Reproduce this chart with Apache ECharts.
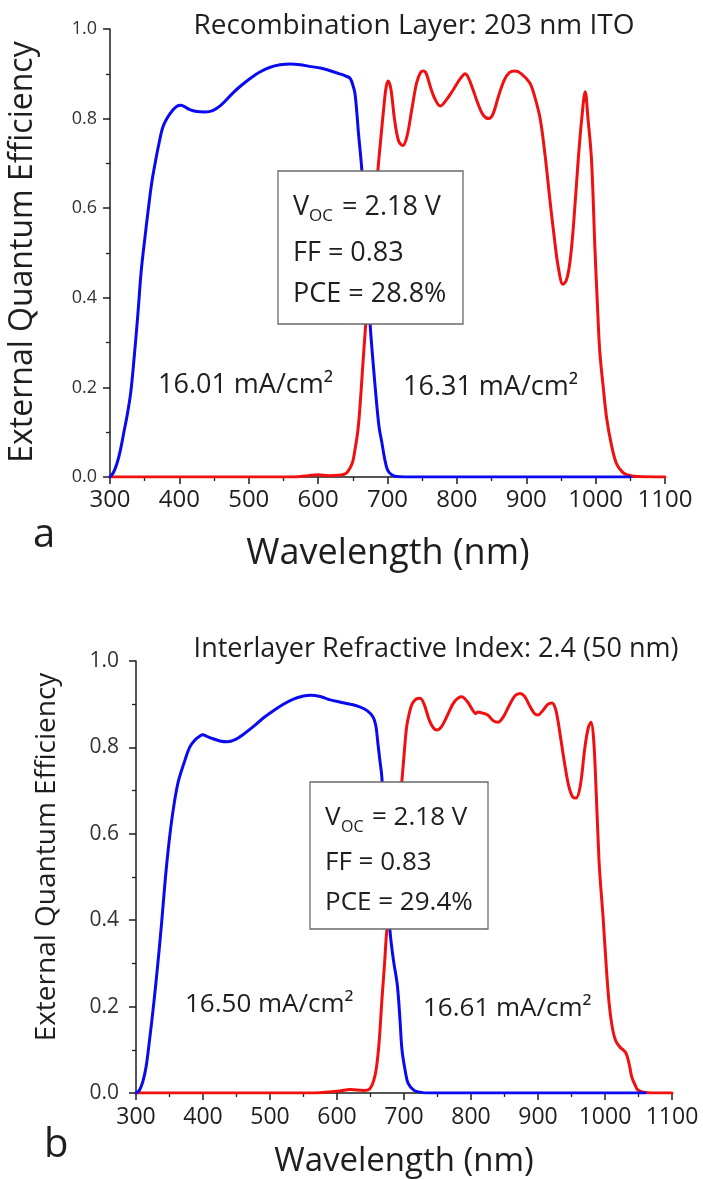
<!DOCTYPE html>
<html><head><meta charset="utf-8">
<script src="https://cdn.jsdelivr.net/npm/echarts@6/dist/echarts.min.js"></script>
<style>html,body{margin:0;padding:0;background:#fff}#c{width:703px;height:1180px}</style>
</head><body><div id="c"></div>
<script>
// ---------- Data ----------
// Panel a: Recombination Layer: 203 nm ITO
const wlBlueA = [300,305,310,315,320,325,330,335,340,345,350,355,360,365,370,376,382,390,397,402,408,415,425,437,448,460,477,490,505,516,530,545,560,575,590,603,615,631,640,646,650,653,656,658,663,669,675,679,684,688,692,696,700,706,713,725,1050];
const eqeBlueA = [0,0.01,0.03,0.06,0.1,0.14,0.19,0.27,0.36,0.46,0.53,0.595,0.655,0.7,0.74,0.78,0.80,0.818,0.828,0.83,0.826,0.82,0.816,0.815,0.818,0.83,0.857,0.875,0.893,0.904,0.914,0.92,0.922,0.92,0.916,0.913,0.908,0.9,0.895,0.89,0.875,0.857,0.81,0.77,0.685,0.51,0.34,0.26,0.17,0.11,0.076,0.04,0.016,0.005,0.001,0,0];
const wlRedA = [300,560,580,600,615,630,640,646,650,653,657,660,664,669,674,680,686,690,695,698,701,705,710,716,722,728,735,742,748,752,756,762,768,776,784,795,803,808,812,816,822,830,838,846,852,860,868,876,884,893,905,912,920,927,934,940,946,953,958,963,968,975,980,985,989,994,999,1003,1006,1011,1016,1023,1030,1038,1045,1060,1100];
const eqeRedA = [0,0,0.002,0.005,0.003,0.004,0.008,0.02,0.035,0.06,0.1,0.15,0.24,0.35,0.45,0.57,0.683,0.75,0.83,0.87,0.884,0.865,0.8,0.75,0.74,0.76,0.82,0.88,0.904,0.906,0.9,0.87,0.845,0.828,0.84,0.865,0.885,0.895,0.9,0.893,0.87,0.835,0.808,0.8,0.81,0.85,0.885,0.903,0.906,0.9,0.88,0.85,0.8,0.72,0.62,0.54,0.47,0.43,0.44,0.48,0.56,0.71,0.8,0.86,0.8,0.71,0.51,0.37,0.28,0.2,0.13,0.07,0.03,0.012,0.005,0.001,0];

// Panel b: Interlayer Refractive Index: 2.4 (50 nm)
const wlBlueB = [300,305,310,315,320,326,332,338,344,350,356,363,373,380,388,396,400,405,415,425,436,448,460,475,490,505,520,535,550,560,575,590,604,620,634,645,654,658,661,664,667,672,679,684,690,694,697,702,706,715,724,735,1060];
const eqeBlueB = [0,0.006,0.025,0.06,0.12,0.2,0.29,0.39,0.5,0.59,0.66,0.72,0.77,0.8,0.817,0.827,0.829,0.826,0.82,0.815,0.813,0.818,0.83,0.848,0.868,0.885,0.9,0.912,0.919,0.921,0.918,0.91,0.905,0.9,0.894,0.885,0.87,0.85,0.81,0.77,0.73,0.55,0.377,0.31,0.25,0.17,0.1,0.05,0.023,0.006,0.002,0,0];
const wlRedB = [300,560,600,620,640,649,655,659,663,667,671,674,681,688,697,701,704,708,712,718,724,730,738,744,749,756,765,775,786,795,803,807,810,816,825,833,840,848,858,866,873,880,888,895,900,907,915,921,926,930,933,940,946,952,957,963,970,975,979,983,987,991,994,997,1002,1006,1010,1014,1018,1023,1027,1031,1034,1037,1040,1045,1049,1057,1070,1100];
const eqeRedB = [0,0,0.004,0.008,0.006,0.01,0.03,0.06,0.12,0.215,0.3,0.37,0.47,0.58,0.725,0.8,0.848,0.88,0.9,0.912,0.914,0.9,0.862,0.845,0.84,0.848,0.875,0.905,0.917,0.905,0.885,0.878,0.882,0.88,0.875,0.862,0.858,0.87,0.9,0.92,0.925,0.918,0.895,0.878,0.875,0.885,0.9,0.903,0.89,0.86,0.83,0.76,0.71,0.685,0.683,0.71,0.8,0.845,0.858,0.82,0.69,0.54,0.47,0.41,0.29,0.21,0.16,0.13,0.115,0.105,0.1,0.093,0.08,0.06,0.037,0.018,0.007,0.002,0,0];

// Axis ranges / ticks
const xRange = [300, 1100];
const xStep = 100;
const yRange = [0, 1];
const yStep = 0.2;

// Texts
const titleA = 'Recombination Layer: 203 nm ITO';
const titleB = 'Interlayer Refractive Index: 2.4 (50 nm)';
const xName = 'Wavelength (nm)';
const yName = 'External Quantum Efficiency';
const boxA = ['2.18 V', '0.83', '28.8%'];
const boxB = ['2.18 V', '0.83', '29.4%'];
const jscA = ['16.01 mA/cm²', '16.31 mA/cm²'];
const jscB = ['16.50 mA/cm²', '16.61 mA/cm²'];

// ---------- Chart ----------
const FONT = '"Open Sans", "Noto Sans", sans-serif';
const INK = '#1e1e1e';
const BLUE = '#0a0af0';
const RED = '#f01010';
const pairs = (x, y) => x.map((v, i) => [v, y[i]]);

function xAxisCfg(grid, fs, margin) {
  return {
    gridIndex: grid, type: 'value', min: xRange[0], max: xRange[1], interval: xStep,
    axisLine: { show: true, onZero: false, lineStyle: { color: INK, width: 1.5 } },
    axisTick: { show: true, inside: false, length: 7, lineStyle: { color: INK, width: 1.5 } },
    minorTick: { show: true, splitNumber: 2, length: 4, lineStyle: { color: INK, width: 1.3 } },
    axisLabel: { show: true, fontSize: fs, color: INK, fontFamily: FONT, margin: margin, hideOverlap: false, formatter: v => String(v) },
    splitLine: { show: false }, minorSplitLine: { show: false }
  };
}
function yAxisCfg(grid, fs, margin) {
  return {
    gridIndex: grid, type: 'value', min: yRange[0], max: yRange[1], interval: yStep,
    axisLine: { show: true, onZero: false, lineStyle: { color: INK, width: 1.5 } },
    axisTick: { show: true, inside: false, length: 7, lineStyle: { color: INK, width: 1.5 } },
    minorTick: { show: true, splitNumber: 2, length: 4, lineStyle: { color: INK, width: 1.3 } },
    axisLabel: { show: true, fontSize: fs, color: '#333', fontFamily: FONT, margin: margin, formatter: v => v.toFixed(1), hideOverlap: false },
    splitLine: { show: false }, minorSplitLine: { show: false }
  };
}
function lineSeries(name, x, y, color, gi) {
  return {
    name, type: 'line', xAxisIndex: gi, yAxisIndex: gi, data: pairs(x, y),
    showSymbol: false, symbol: 'none', smooth: 0.35,
    lineStyle: { color, width: 3, join: 'round', cap: 'round' }, itemStyle: { color }, silent: true, animation: false, z: 3
  };
}
function txt(x, y, text, fs, extra) {
  return Object.assign({
    type: 'text', x, y, z: 100,
    style: { text, fontSize: fs, fontFamily: FONT, fill: INK, align: 'left', verticalAlign: 'middle' }
  }, extra || {});
}
function ctxt(x, y, text, fs, rot) {
  return {
    type: 'text', x, y, z: 100, rotation: rot || 0,
    style: { text, fontSize: fs, fontFamily: FONT, fill: INK, align: 'center', verticalAlign: 'middle' }
  };
}
function box(x, y, w, h, fs, subFs, left, rows, vals, subDx, subDy, eqDx) {
  const els = [{ type: 'rect', z: 99, shape: { x, y, width: w, height: h }, style: { fill: '#fff', stroke: '#6a6a6a', lineWidth: 1.3 } }];
  els.push(txt(left, rows[0], 'V', fs));
  els.push(txt(left + subDx, rows[0] + subDy, 'OC', subFs));
  els.push(txt(left + eqDx, rows[0], '= ' + vals[0], fs));
  els.push(txt(left, rows[1], 'FF = ' + vals[1], fs));
  els.push(txt(left, rows[2], 'PCE = ' + vals[2], fs));
  return els;
}

const chart = echarts.init(document.getElementById('c'), null, { renderer: 'canvas' });
const graphics = [].concat(
  [ctxt(414, 26, titleA, 28), ctxt(436, 649, titleB, 27)],
  [ctxt(23, 252, yName, 32, Math.PI / 2), ctxt(47, 857, yName, 28, Math.PI / 2)],
  [ctxt(388, 554, xName, 36), ctxt(404, 1162, xName, 33)],
  [txt(33, 536, 'a', 40), txt(44, 1146, 'b', 40)],
  box(278, 171, 185, 153, 27, 17, 293, [207, 253, 294], boxA, 16, 9, 49),
  box(310, 782, 178, 147, 26, 16, 325, [818, 863, 903], boxB, 16, 9, 47),
  [txt(158, 385, jscA[0], 27), txt(403, 387, jscA[1], 27)],
  [txt(185, 1005, jscB[0], 26), txt(423, 1009, jscB[1], 26)]
);

chart.setOption({
  animation: false,
  backgroundColor: '#fff',
  grid: [
    { left: 110, top: 29, width: 555, height: 448, containLabel: false },
    { left: 136, top: 661, width: 536, height: 432, containLabel: false }
  ],
  xAxis: [xAxisCfg(0, 24, 11), xAxisCfg(1, 23, 13)],
  yAxis: [yAxisCfg(0, 18, 13), yAxisCfg(1, 21, 17)],
  series: [
    lineSeries('Red a', wlRedA, eqeRedA, RED, 0),
    lineSeries('Blue a', wlBlueA, eqeBlueA, BLUE, 0),
    lineSeries('Red b', wlRedB, eqeRedB, RED, 1),
    lineSeries('Blue b', wlBlueB, eqeBlueB, BLUE, 1)
  ],
  graphic: graphics
});
</script></body></html>
